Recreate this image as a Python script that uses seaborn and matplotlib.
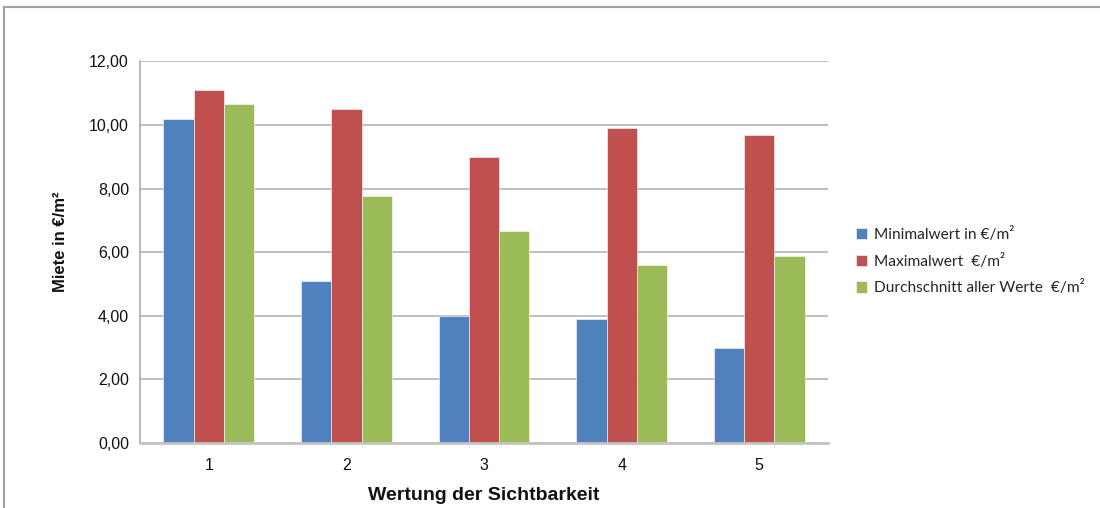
import matplotlib
matplotlib.use("Agg")
import matplotlib.pyplot as plt
from matplotlib.patches import Rectangle
from matplotlib.ticker import FuncFormatter
import pandas as pd
import seaborn as sns

# Rental prices by visibility rating
ratings = ["1", "2", "3", "4", "5"]
series_names = ["Minimalwert in €/m²", "Maximalwert  €/m²", "Durchschnitt aller Werte  €/m²"]
min_values = [10.2, 5.1, 4.0, 3.9, 3.0]
max_values = [11.1, 10.5, 9.0, 9.9, 9.7]
avg_values = [10.67, 7.78, 6.67, 5.6, 5.88]
colors = ["#4F81BD", "#C0504D", "#9BBB59"]

rows = []
for name, vals in zip(series_names, [min_values, max_values, avg_values]):
    for r, v in zip(ratings, vals):
        rows.append({"Wertung": r, "Serie": name, "Miete": v})
df = pd.DataFrame(rows)

sns.set_theme(style="white")
plt.rcParams["font.family"] = ["Liberation Sans", "DejaVu Sans"]

fig = plt.figure(figsize=(11, 5.08), dpi=100)
ax = fig.add_axes([0.1273, 0.128, 0.6255, 0.751])

sns.barplot(data=df, x="Wertung", y="Miete", hue="Serie", order=ratings,
            hue_order=series_names, palette=colors, width=0.66, gap=0,
            saturation=1, edgecolor="white", linewidth=0.4, ax=ax, legend=True)

ax.set_ylim(0, 12)
ax.set_xlim(-0.5, 4.5)
ax.set_yticks(range(0, 13, 2))
ax.yaxis.set_major_formatter(FuncFormatter(lambda v, p: f"{v:.2f}".replace(".", ",")))
ax.grid(axis="y", color="#b4b4b4", linewidth=1.2)
ax.set_axisbelow(True)
for s in ["top", "right"]:
    ax.spines[s].set_visible(False)
ax.spines["left"].set_color("#a6a6a6")
ax.spines["bottom"].set_color("#c4c4c4")
ax.spines["bottom"].set_linewidth(2)
ax.spines["left"].set_linewidth(1.1)
ax.tick_params(axis="y", length=5, color="#a6a6a6", width=1, pad=3, labelsize=11.5, labelcolor="#111111")
ax.tick_params(axis="x", length=0, pad=11, labelsize=11.5, labelcolor="#111111")

ax.set_xlabel("Wertung der Sichtbarkeit", fontsize=14, fontweight="bold", labelpad=10, color="#111111")
ax.set_ylabel("Miete in €/m²", fontsize=12, fontweight="bold", color="#111111")
ax.yaxis.set_label_coords(-0.104, 0.527)

handles, labels = ax.get_legend_handles_labels()
ax.legend(handles, labels, loc="center left", bbox_to_anchor=(0.765, 0.486),
          bbox_transform=fig.transFigure, frameon=False, handlelength=0.72,
          handleheight=0.72, handletextpad=0.45, labelspacing=0.76,
          prop={"family": ["Lato", "DejaVu Sans"], "size": 11.2})

# chart frame (top and left edges)
fig.patches.append(Rectangle((0.0036, -0.05), 1.2, 1.036, transform=fig.transFigure,
                             fill=False, edgecolor="#a0a0a0", linewidth=1.5))

fig.savefig("out.png", dpi=100, facecolor="white")
